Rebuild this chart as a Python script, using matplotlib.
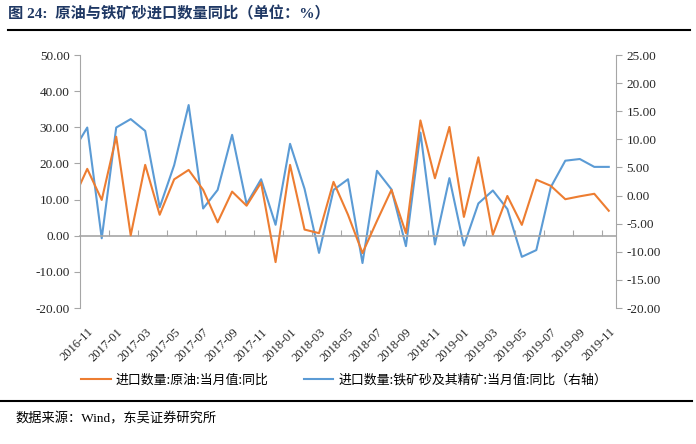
import numpy as np
import pandas as pd
import matplotlib
matplotlib.use('Agg')
import matplotlib.pyplot as plt
import matplotlib.transforms as mtransforms
from matplotlib.ticker import FormatStrFormatter, FixedLocator

plt.rcParams['font.family'] = ['Liberation Serif', 'Noto Sans CJK SC', 'DejaVu Sans']

# monthly, 2016-10 .. 2019-11 (2016-10 only shows as the clipped first segment)
months = pd.date_range('2016-10-01', '2019-11-01', freq='MS').strftime('%Y-%m').tolist()
crude = [9.7, 18.5, 9.9, 27.4, 0.1, 19.6, 5.8, 15.6, 18.2, 12.7, 3.7, 12.2, 8.3,
         14.7, -7.3, 19.6, 1.7, 0.7, 14.9, 5.8, -4.8, 4.1, 12.7, 0.7, 31.9,
         15.9, 30.1, 5.2, 21.7, 0.3, 11.0, 3.0, 15.5, 13.8, 10.1, 10.9, 11.6, 6.9]
iron = [7.8, 12.1, -7.6, 12.1, 13.6, 11.5, -2.1, 5.4, 16.1, -2.3, 1.0, 10.8, -1.5,
        2.9, -5.2, 9.2, 1.2, -10.2, 1.0, 2.9, -12.0, 4.4, 1.1, -9.0, 11.2,
        -8.7, 3.1, -8.9, -1.4, 0.9, -2.4, -10.9, -9.7, 1.5, 6.2, 6.5, 5.1, 5.1]
label_crude = '进口数量:原油:当月值:同比'
label_iron = '进口数量:铁矿砂及其精矿:当月值:同比（右轴）'

orange = '#ED7D31'
blue = '#5B9BD5'
gray = '#A6A6A6'
txt = '#262626'

fig = plt.figure(figsize=(6.96, 4.44), dpi=100)
ax = fig.add_axes([80/696, 1-308/444, 536/696, 253/444])
ax2 = ax.twinx()

x = np.arange(len(months)) - 1  # 2016-11 at 0
l1, = ax.plot(x, crude, color=orange, lw=1.5, label=label_crude, clip_on=True)
l2, = ax2.plot(x, iron, color=blue, lw=1.5, label=label_iron, clip_on=True)
ax.set_zorder(ax2.get_zorder() + 1)
ax.patch.set_visible(False)

n = len(months) - 1
ax.set_xlim(-0.5, n - 0.5)
ax.set_ylim(-20, 50)
ax2.set_ylim(-20, 25)
ax.set_yticks(np.arange(-20, 51, 10))
ax2.set_yticks(np.arange(-20, 26, 5))
ax.yaxis.set_major_formatter(FormatStrFormatter('%.2f'))
ax2.yaxis.set_major_formatter(FormatStrFormatter('%.2f'))

for a in (ax, ax2):
    for s in ('top', 'bottom'):
        a.spines[s].set_visible(False)
    a.spines['left'].set_color(gray)
    a.spines['right'].set_color(gray)
    a.tick_params(axis='y', colors=gray, labelcolor=txt, labelsize=9.5, length=4, width=0.8)
ax.spines['right'].set_visible(False)
ax2.spines['left'].set_visible(False)

# category labels every 2 months
pos = x[1::2]
ax.set_xticks(pos)
ax.set_xticklabels(months[1::2], rotation=45, ha='right', va='top',
                   rotation_mode='anchor', fontsize=9, color=txt)
ax.tick_params(axis='x', length=0, pad=13)

# zero line with tick marks between categories
sec = ax.secondary_xaxis(20/70)
sec.spines['bottom'].set_color(gray)
sec.spines['bottom'].set_linewidth(1.2)
sec.xaxis.set_major_locator(FixedLocator(np.arange(1.5, n - 1, 2)))
sec.tick_params(axis='x', direction='in', length=4, color=gray, labelbottom=False, width=0.8)

fig.legend([l1, l2], [label_crude, label_iron], loc='center', ncol=2,
           bbox_to_anchor=(344/696, 1-380/444), frameon=False, fontsize=9.3,
           handlelength=2.3, handletextpad=0.4, columnspacing=2.7,
           prop={'family': ['Noto Sans CJK SC'], 'size': 9.3})

fig.text(8/696, 1-14/444, '图 24:  原油与铁矿砂进口数量同比（单位：%）', fontsize=11,
         fontweight='bold', color='#1F3864', va='center', ha='left',
         family=['Liberation Serif', 'Noto Sans CJK SC'])
fig.add_artist(plt.Line2D([8/696, 690/696], [1-30/444, 1-30/444], color='black', lw=1.5))
fig.add_artist(plt.Line2D([0, 692/696], [1-401/444, 1-401/444], color='black', lw=1.5))
fig.text(15/696, 1-419/444, '数据来源：Wind，东吴证券研究所', fontsize=9.5, color='black',
         va='center', ha='left', family=['Liberation Serif', 'Noto Sans CJK SC'])

fig.savefig('out.png', dpi=100)
